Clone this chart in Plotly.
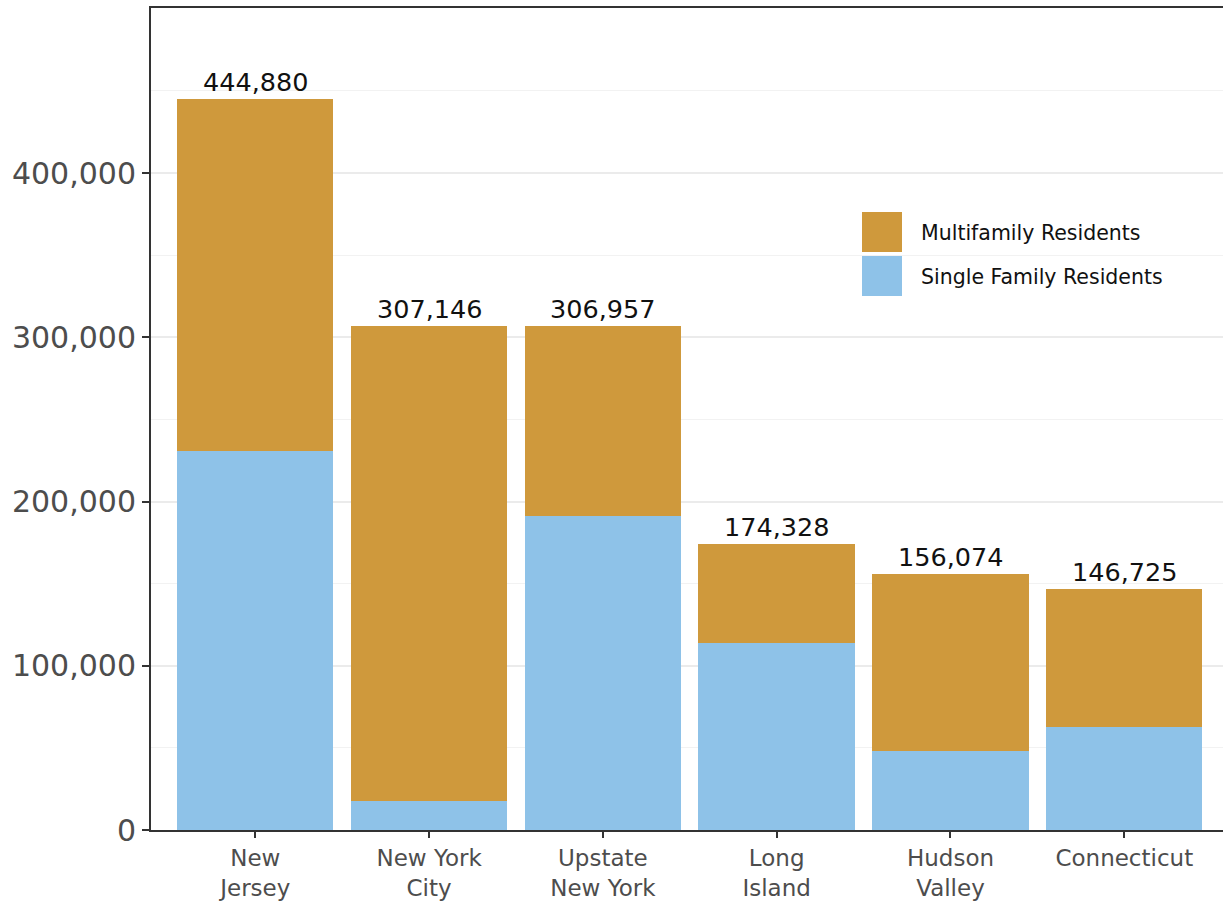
import plotly.graph_objects as go

regions = ["New<br>Jersey", "New York<br>City", "Upstate<br>New York", "Long<br>Island", "Hudson<br>Valley", "Connecticut"]
totals = [444880, 307146, 306957, 174328, 156074, 146725]
single_family = [230800, 17700, 191200, 113900, 48100, 62700]
multifamily = [t - s for t, s in zip(totals, single_family)]
total_labels = [f"{t:,}" for t in totals]

GOLD = "#CF993C"
BLUE = "#8EC2E8"
FONT = "DejaVu Sans"

W, H = 1223, 901
L, R, T, B = 151, 0, 8, 71

fig = go.Figure()
fig.add_trace(go.Bar(x=regions, y=single_family, name="Single Family Residents",
                     marker=dict(color=BLUE, line=dict(width=0))))
fig.add_trace(go.Bar(x=regions, y=multifamily, name="Multifamily Residents",
                     marker=dict(color=GOLD, line=dict(width=0))))

for r, t, lab in zip(regions, totals, total_labels):
    fig.add_annotation(x=r, y=t, text=lab, showarrow=False, yanchor="bottom",
                       yshift=0, font=dict(family=FONT, size=25.5, color="#111111"))

# custom legend
pw = W - L - R
ph = H - T - B
def px(xp):
    return (xp - L) / pw
def py(yp):
    return (H - B - yp) / ph

legend_items = [("Multifamily Residents", GOLD, 212), ("Single Family Residents", BLUE, 256)]
for name, col, top in legend_items:
    fig.add_shape(type="rect", xref="paper", yref="paper",
                  x0=px(862), x1=px(902), y0=py(top + 40), y1=py(top),
                  fillcolor=col, line=dict(width=0))
    fig.add_annotation(xref="paper", yref="paper", x=px(919), y=py(top + 21),
                       text=name, showarrow=False, xanchor="left", yanchor="middle",
                       font=dict(family=FONT, size=20.5, color="#111111"))

fig.update_layout(
    barmode="stack",
    bargap=0.1,
    width=W, height=H,
    margin=dict(l=L, r=R, t=T, b=B, pad=0, autoexpand=False),
    plot_bgcolor="white", paper_bgcolor="white",
    showlegend=False,
    font=dict(family=FONT),
)
fig.update_xaxes(
    range=[-0.6, 5.568],
    automargin=False,
    showline=True, linecolor="#333333", linewidth=2, mirror=True,
    ticks="outside", ticklen=6, tickwidth=2, tickcolor="#333333",
    tickfont=dict(family=FONT, size=23, color="#4d4d4d"),
    showgrid=False,
)
fig.update_yaxes(
    range=[0, 500500],
    automargin=False,
    tickvals=[0, 100000, 200000, 300000, 400000],
    ticktext=["0", "100,000", "200,000", "300,000", "400,000"],
    showline=True, linecolor="#333333", linewidth=2, mirror=False,
    ticks="outside", ticklen=7, tickwidth=2, tickcolor="#333333",
    tickfont=dict(family=FONT, size=30, color="#4d4d4d"),
    showgrid=True, gridcolor="#EBEBEB", gridwidth=2,
    minor=dict(tickvals=[50000, 150000, 250000, 350000, 450000], showgrid=True,
               gridcolor="#F2F2F2", gridwidth=1, ticks=""),
    zeroline=False,
)

fig.write_html("out.html")
